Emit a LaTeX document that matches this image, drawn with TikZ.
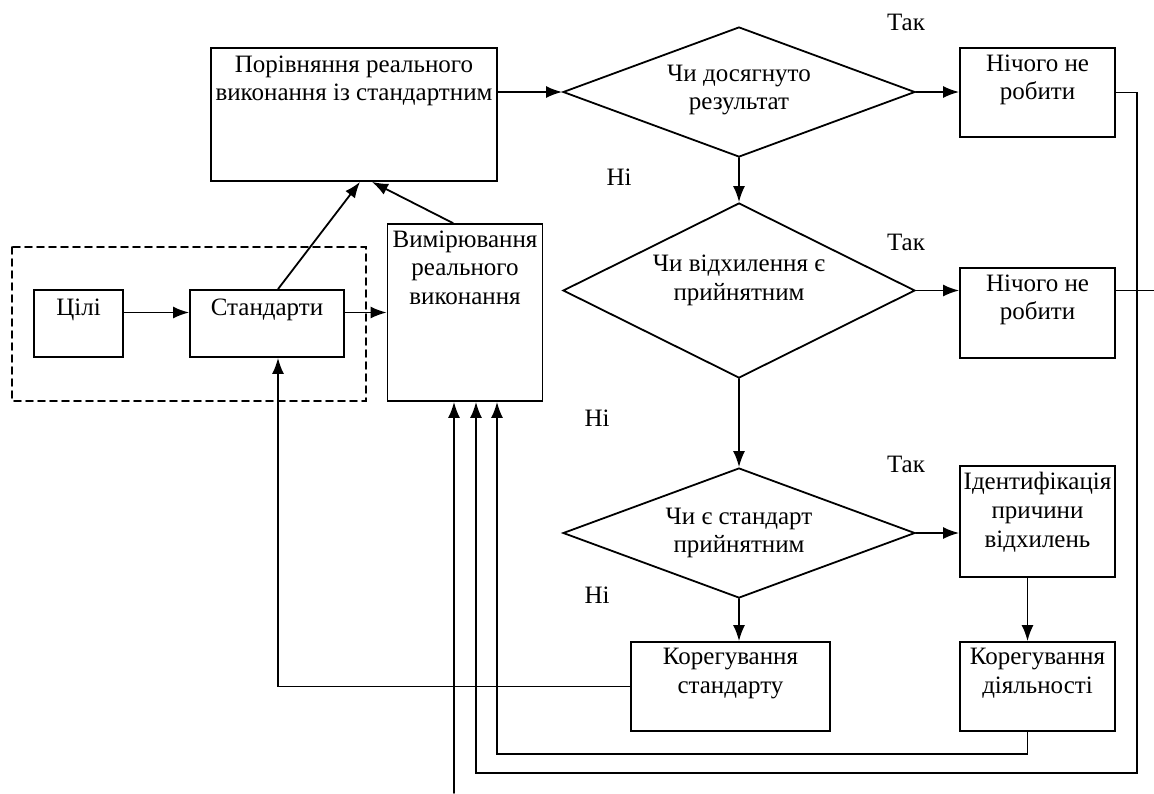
\documentclass[tikz,border=0pt]{standalone}
\usepackage{fontspec}
\setmainfont{Liberation Serif}
\usetikzlibrary{shapes.geometric,arrows.meta}

\tikzset{
	blok/.style={draw, line width=0.9pt, inner sep=0pt},
	romb/.style={draw, diamond, line width=0.9pt, inner sep=0pt, minimum width=176pt},
	napys/.style={anchor=north, align=center, inner sep=0pt, yshift=-3.5pt},
	rtext/.style={align=center, inner sep=0pt},
	strilka/.style={line width=0.9pt, -{Latex[length=8pt,width=6pt]}},
}

\begin{document}
\begin{tikzpicture}[x=0.5pt, y=-0.5pt, line cap=round, font=\fontsize{12.5}{14.4}\selectfont]
		\useasboundingbox (0,0) rectangle (1154,793);
		
		% Boxes
		\node[blok, minimum width=143pt, minimum height=66.5pt] (porivn) at (354,114.5) {};
		\node[blok, minimum width=44.5pt, minimum height=33.5pt] (tsili) at (78.5,323.5) {};
		\node[blok, minimum width=77pt, minimum height=33.5pt] (standart) at (267,323.5) {};
		\node[blok, minimum width=77.5pt, minimum height=88.5pt] (vymir) at (465,312.5) {};
		\node[blok, minimum width=77.5pt, minimum height=44.5pt] (nich1) at (1037.5,92.5) {};
		\node[blok, minimum width=77.5pt, minimum height=45pt] (nich2) at (1037.5,313) {};
		\node[blok, minimum width=77.5pt, minimum height=55.5pt] (ident) at (1037.5,521.5) {};
		\node[blok, minimum width=77.5pt, minimum height=44.5pt] (kordiyal) at (1037.5,686.5) {};
		\node[blok, minimum width=99.5pt, minimum height=44.5pt] (korstd) at (730.5,686.5) {};
		
		% Box texts
		\node[napys, yshift=-0.5pt] (porivn-t) at (porivn.north) {Порівняння реального\\виконання із стандартним};
		\node[napys, yshift=-1pt] (tsili-t) at (tsili.north) {Цілі};
		\node[napys, yshift=-1pt] (standart-t) at (standart.north) {Стандарти};
		\node[napys] (vymir-t) at (vymir.north) {Вимірювання\\реального\\виконання};
		\node[napys] (nich1-t) at (nich1.north) {Нічого не\\робити};
		\node[napys] (nich2-t) at (nich2.north) {Нічого не\\робити};
		\node[napys] (ident-t) at (ident.north) {Ідентифікація\\причини\\відхилень};
		\node[napys] (kordiyal-t) at (kordiyal.north) {Корегування\\діяльності};
		\node[napys] (korstd-t) at (korstd.north) {Корегування\\стандарту};
		
		% Diamonds
		\node[romb, minimum height=65pt, label={[rtext, yshift=1pt]center:{Чи досягнуто\\результат}}] (d1) at (739,92) {};
		\node[romb, minimum height=87.5pt, label={[rtext, yshift=5pt]center:{Чи відхилення є\\прийнятним}}] (d2) at (739,290.5) {};
		\node[romb, minimum height=65pt, label={[rtext]center:{Чи є стандарт\\прийнятним}}] (d3) at (739,533) {};
		
		% Yes / No
		\node (tak1) at (906,22) {Так};
		\node (tak2) at (906,242) {Так};
		\node (tak3) at (906,464) {Так};
		\node (ni1) at (619,177) {Ні};
		\node (ni2) at (597,418) {Ні};
		\node (ni3) at (597,595) {Ні};
		
		% Dashed frame
		\draw[dashed, dash pattern=on 3.5pt off 2.5pt, line width=0.9pt] (12,247) rectangle (366,401);
		
		% Arrows
		\draw[strilka] (tsili.east |- vymir.west) -- (standart.west |- vymir.west);
		\draw[strilka] (standart.east |- vymir.west) -- (vymir.west);
		\draw[strilka] ([xshift=5.5pt]standart.north) -- ([xshift=3pt]porivn.south);
		\draw[strilka] ([xshift=-6pt]vymir.north) -- ([xshift=9pt]porivn.south);
		\draw[strilka] (porivn.east |- d1.west) -- (d1.west);
		\draw[strilka] (d1.east) -- (d1.east -| nich1.west);
		\draw[strilka] (d1.south) -- (d2.north);
		\draw[strilka] (d2.east) -- (d2.east -| nich2.west);
		\draw[strilka] (d2.south) -- (d3.north);
		\draw[strilka] (d3.east) -- (d3.east -| ident.west);
		\draw[strilka] (d3.south) -- (d3.south |- korstd.north);
		\draw[strilka] ([xshift=-5pt]ident.south) -- ([xshift=-5pt]kordiyal.north);
		
		% Feedback
		\coordinate (kut) at (1137,773);
		\coordinate (vyhid) at (1154,290.5);
		\coordinate (vhid) at (454,793);
		\draw[strilka] (korstd.west) -| ([xshift=5.5pt]standart.south);
		\draw[strilka] ([xshift=-5pt]kordiyal.south) -- ++(0,22) -| ([xshift=16pt]vymir.south);
		\draw[strilka] (nich1.east) -| (kut) -| ([xshift=5.5pt]vymir.south);
		\draw[line width=0.9pt] (nich2.east |- d2.east) -- (vyhid);
		\draw[strilka] (vhid) -- ([xshift=-5.5pt]vymir.south);
	\end{tikzpicture}
\end{document}
